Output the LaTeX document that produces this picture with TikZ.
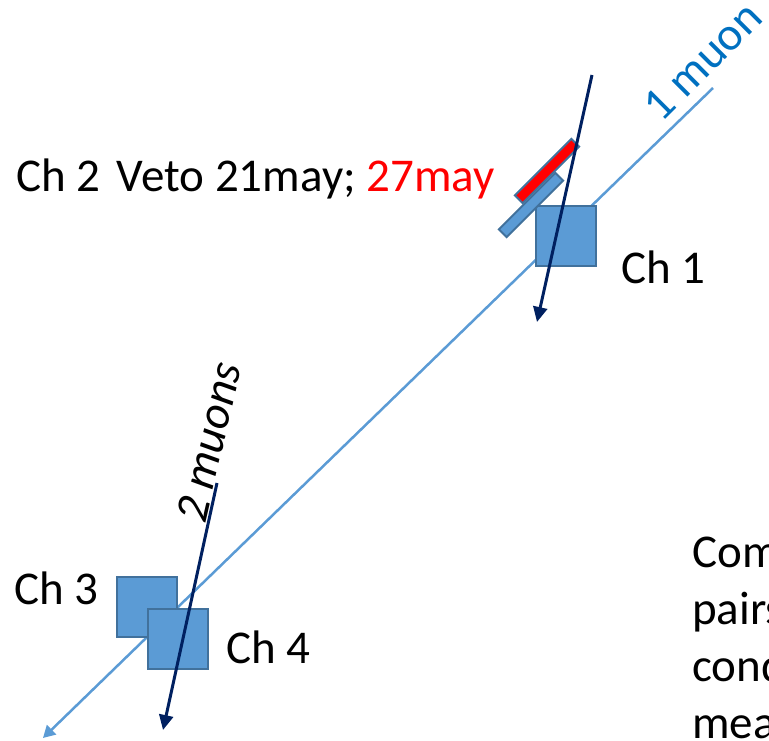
\documentclass[tikz,border=0pt]{standalone}
\usepackage{fontspec}
\setmainfont{Carlito}
\usetikzlibrary{arrows.meta}
\definecolor{boxblue}{HTML}{5B9BD5}
\definecolor{boxedge}{HTML}{41719C}
\definecolor{navy}{HTML}{002060}
\definecolor{muonblue}{HTML}{0070C0}
\tikzset{
	txt/.style = {inner sep=0pt, font=\fontsize{47}{57}\selectfont, anchor=base west},
	chbox/.style = {draw=boxedge, fill=boxblue, line width=2pt, inner sep=0pt, minimum size=60pt},
	paddle/.style = {draw=boxedge, line width=2pt, inner sep=0pt, minimum width=80pt, rotate=45},
	track/.style = {boxblue, line width=2.5pt, -{Triangle[length=12pt,width=13pt]}},
	muon/.style = {navy, line width=3pt, -{Triangle[length=15pt,width=14pt]}}
}
\begin{document}
\begin{tikzpicture}[x=1pt,y=-1pt]
\useasboundingbox (0,0) rectangle (769,741);
\clip (0,0) rectangle (769,741);
\coordinate (trackin) at (713,88);
\coordinate (trackout) at (43,738);
\draw [track] (trackin) -- (trackout);
\node [chbox] (ch3) at (147,607) {};
\node [chbox] (ch4) at (178,639) {};
\node [chbox] (ch1) at (566,236) {};
\node [paddle, fill=boxblue, minimum height=11pt] (veto) at (531,205) {};
\node [paddle, fill=red, minimum height=11pt] (vetonew) at (547,171) {};
\coordinate (muonAin) at (592,75);
\coordinate (muonAout) at (537,322);
\coordinate (muonBin) at (217,483);
\coordinate (muonBout) at (163,730);
\draw [muon] (muonAin) -- (muonAout);
\draw [muon] (muonBin) -- (muonBout);
\node [txt] (vetolabel) at (16,192) {Ch 2\hspace{6pt} Veto 21may; \textcolor{red}{27may}};
\node [txt] (ch1label) at (621,283) {Ch 1};
\node [txt] (ch3label) at (14,604) {Ch 3};
\node [txt] (ch4label) at (226,663) {Ch 4};
\node [txt, muonblue, rotate=45] (onemuon) at (661,124) {1 muon};
\node [txt, rotate=77, font=\fontsize{47}{57}\selectfont\itshape] (twomuons) at (205,525) {2 muons};
\node [txt, align=left] (note) at (692,738) {Com\\pairs\\cond\\mea};
\end{tikzpicture}
\end{document}
